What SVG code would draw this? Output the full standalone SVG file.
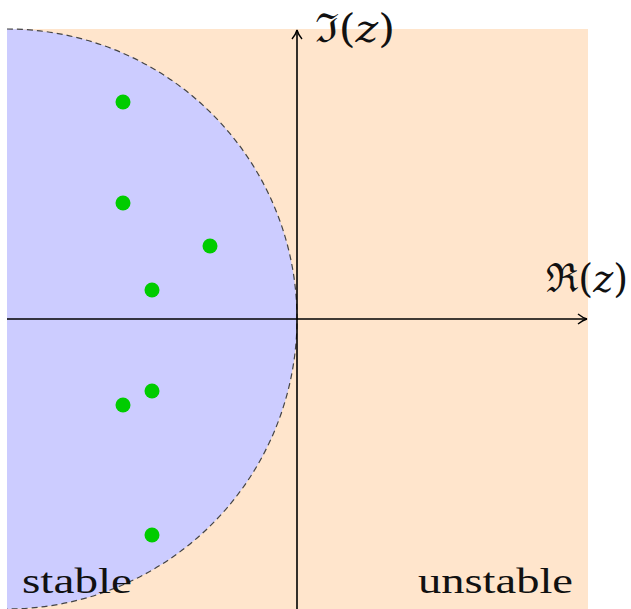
<svg xmlns="http://www.w3.org/2000/svg" width="631" height="609" viewBox="0 0 631 609">
<style>
.lbl{font-family:"DejaVu Serif","Liberation Serif",serif;fill:#111;font-size:40px}
.word{font-family:"Liberation Serif","DejaVu Serif",serif;fill:#111;font-size:36px}
.pole{fill:#00cc00}
.axis{stroke:#000;stroke-width:1.6;fill:none}
</style>
<defs>
<marker id="arr" viewBox="0 0 12 12" refX="10" refY="6" markerWidth="12" markerHeight="12" markerUnits="userSpaceOnUse" orient="auto">
<path d="M1,1 Q6,5 10,6 Q6,7 1,11" fill="none" stroke="#000" stroke-width="1.4"/>
</marker>
</defs>
<rect x="0" y="0" width="631" height="609" fill="#fff"/>
<g id="regions">
<rect id="unstable-region" x="7" y="29" width="581" height="580" fill="#ffe5cc"/>
<path id="stable-region" d="M7,29 A290,290 0 0 1 297,319 A290,290 0 0 1 7,609 Z" fill="#ccccff"/>
<path id="boundary" d="M7,29 A290,290 0 0 1 297,319 A290,290 0 0 1 7,609" fill="none" stroke="#444" stroke-width="1.2" stroke-dasharray="6,4"/>
</g>
<g id="connectors">
<line class="axis" x1="7" y1="319" x2="587" y2="319" marker-end="url(#arr)"/>
<line class="axis" x1="297" y1="609" x2="297" y2="30" marker-end="url(#arr)"/>
</g>
<g id="poles">
<circle class="pole" cx="123" cy="102" r="7.5"/>
<circle class="pole" cx="123" cy="203" r="7.5"/>
<circle class="pole" cx="210" cy="246" r="7.5"/>
<circle class="pole" cx="152" cy="290" r="7.5"/>
<circle class="pole" cx="152" cy="391" r="7.5"/>
<circle class="pole" cx="123" cy="405" r="7.5"/>
<circle class="pole" cx="152" cy="535" r="7.5"/>
</g>
<g id="labels">
<text class="lbl" x="315" y="42" textLength="80" lengthAdjust="spacingAndGlyphs">ℑ(<tspan font-style="italic">z</tspan>)</text>
<text class="lbl" x="546" y="292" textLength="82" lengthAdjust="spacingAndGlyphs">ℜ(<tspan font-style="italic">z</tspan>)</text>
<text class="word" x="22" y="593" textLength="110" lengthAdjust="spacingAndGlyphs">stable</text>
<text class="word" x="418" y="593" textLength="155" lengthAdjust="spacingAndGlyphs">unstable</text>
</g>
</svg>
